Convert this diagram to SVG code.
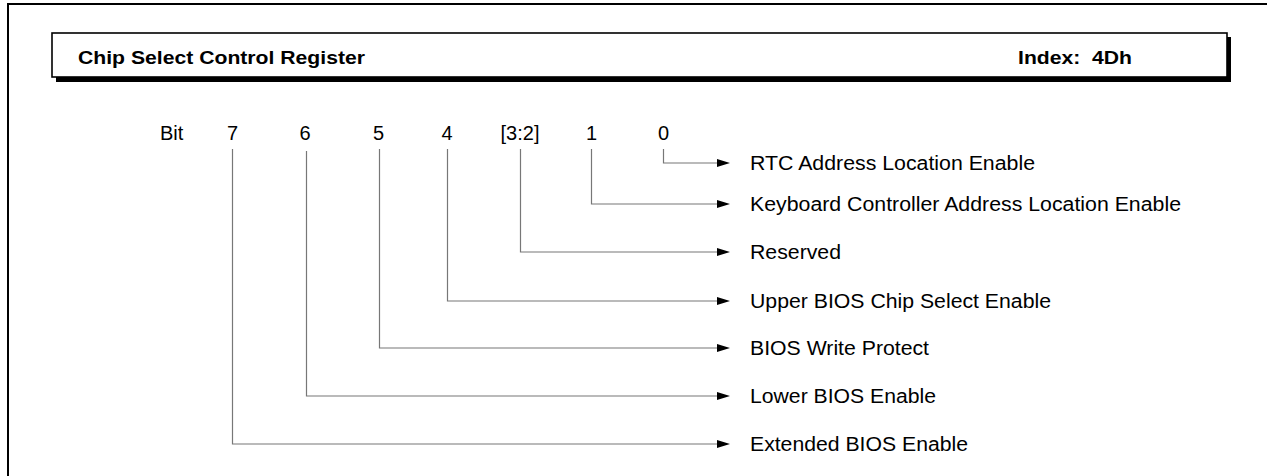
<svg xmlns="http://www.w3.org/2000/svg" width="1267" height="476" viewBox="0 0 1267 476">
<style>
.frame{fill:none;stroke:#000;stroke-width:2}
.hdr{fill:#fff;stroke:#000;stroke-width:1.6}
.shadow{fill:#000}
.ttl{font-family:"Liberation Sans",Arial,sans-serif;font-weight:bold;font-size:18px;fill:#000}
.bit{font-family:"Liberation Sans",Arial,sans-serif;font-size:20px;fill:#000}
.lbl{font-family:"Liberation Sans",Arial,sans-serif;font-size:19.5px;fill:#000}
.conn{fill:none;stroke:#777;stroke-width:1.2}
</style>
<defs>
<marker id="ah" viewBox="0 0 13 8" refX="0" refY="4" markerWidth="13" markerHeight="8" markerUnits="userSpaceOnUse" orient="auto">
<path d="M0,0 L13,4 L0,8 Z" fill="#000"/>
</marker>
</defs>
<rect width="1267" height="476" fill="#fff"/>
<path class="frame" d="M8,476 V4 H1267"/>
<g id="header">
<rect class="shadow" x="56" y="37" width="1175" height="45"/>
<rect class="hdr" x="52" y="33" width="1175" height="44"/>
<text class="ttl" x="78" y="64" textLength="287" lengthAdjust="spacingAndGlyphs">Chip Select Control Register</text>
<text class="ttl" x="1018" y="64" textLength="114" lengthAdjust="spacingAndGlyphs" xml:space="preserve">Index:  4Dh</text>
</g>
<g id="bit-labels" class="bit">
<text x="160" y="140">Bit</text>
<text x="232.5" y="140" text-anchor="middle">7</text>
<text x="305" y="140" text-anchor="middle">6</text>
<text x="378.5" y="140" text-anchor="middle">5</text>
<text x="447" y="140" text-anchor="middle">4</text>
<text x="520" y="140" text-anchor="middle">[3:2]</text>
<text x="591.5" y="140" text-anchor="middle">1</text>
<text x="663.5" y="140" text-anchor="middle">0</text>
</g>
<g id="connectors" class="conn">
<path d="M663.5,149 V163 H717" marker-end="url(#ah)"/>
<path d="M591.5,149 V204 H717" marker-end="url(#ah)"/>
<path d="M520.5,149 V252 H717" marker-end="url(#ah)"/>
<path d="M447.5,149 V301 H717" marker-end="url(#ah)"/>
<path d="M379.5,149 V348 H717" marker-end="url(#ah)"/>
<path d="M306.5,151 V396 H717" marker-end="url(#ah)"/>
<path d="M232.5,149 V444 H717" marker-end="url(#ah)"/>
</g>
<g id="field-rtc"><text class="lbl" x="750" y="170" textLength="285" lengthAdjust="spacingAndGlyphs">RTC Address Location Enable</text></g>
<g id="field-kbc"><text class="lbl" x="750" y="211" textLength="431" lengthAdjust="spacingAndGlyphs">Keyboard Controller Address Location Enable</text></g>
<g id="field-reserved"><text class="lbl" x="750" y="259" textLength="91" lengthAdjust="spacingAndGlyphs">Reserved</text></g>
<g id="field-upper-bios"><text class="lbl" x="750" y="308" textLength="301" lengthAdjust="spacingAndGlyphs">Upper BIOS Chip Select Enable</text></g>
<g id="field-bios-wp"><text class="lbl" x="750" y="355" textLength="179" lengthAdjust="spacingAndGlyphs">BIOS Write Protect</text></g>
<g id="field-lower-bios"><text class="lbl" x="750" y="403" textLength="186" lengthAdjust="spacingAndGlyphs">Lower BIOS Enable</text></g>
<g id="field-ext-bios"><text class="lbl" x="750" y="451" textLength="218" lengthAdjust="spacingAndGlyphs">Extended BIOS Enable</text></g>
</svg>
